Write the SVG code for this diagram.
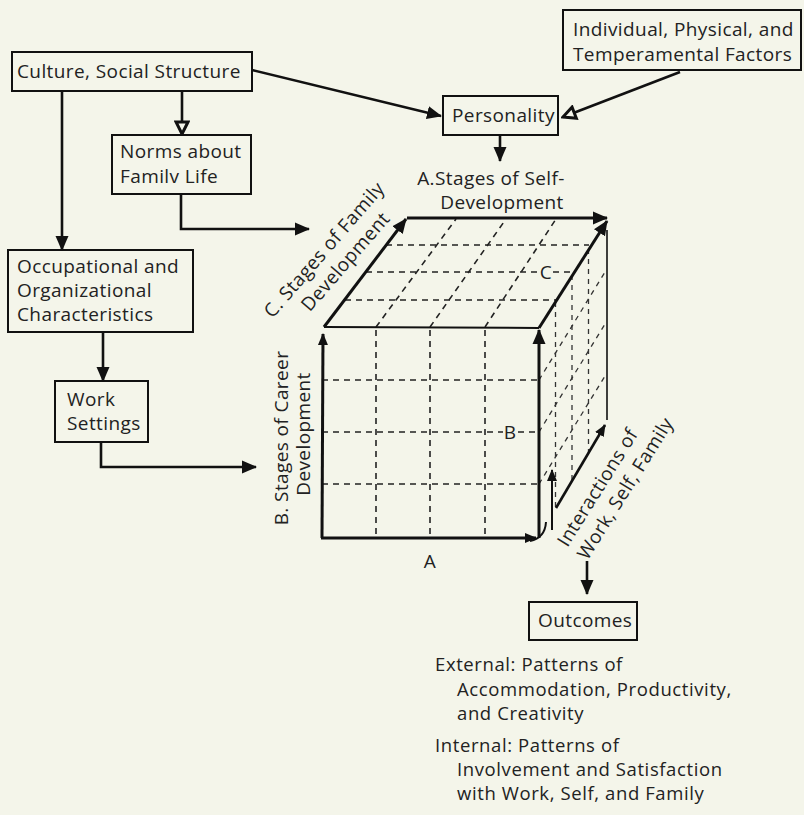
<svg xmlns="http://www.w3.org/2000/svg" width="804" height="815" viewBox="0 0 804 815">
<defs>
<style>
text{font-family:"Open Sans","Noto Sans","DejaVu Sans",sans-serif;font-size:19px;letter-spacing:0.4px;fill:#222;}
.note{font-size:18.5px;letter-spacing:0.6px;}
.box{fill:none;stroke:#111;stroke-width:2;}
.con{fill:none;stroke:#111;stroke-width:2.6;}
.edge{fill:none;stroke:#111;stroke-width:3;}
.thin{fill:none;stroke:#111;stroke-width:2;}
.dash{fill:none;stroke:#222;stroke-width:1.6;stroke-dasharray:6 5;}
.dash2{fill:none;stroke:#333;stroke-width:1.3;stroke-dasharray:5 5;}
</style>
<marker id="ah" markerWidth="15" markerHeight="15" refX="14" refY="7.5" orient="auto" markerUnits="userSpaceOnUse"><path d="M0,1 L15,7.5 L0,14 z" fill="#111"/></marker>
<marker id="ahs" markerWidth="12" markerHeight="12" refX="11" refY="6" orient="auto" markerUnits="userSpaceOnUse"><path d="M0,1 L12,6 L0,11 z" fill="#111"/></marker>
<marker id="ahh" markerWidth="16" markerHeight="16" refX="14" refY="8" orient="auto" markerUnits="userSpaceOnUse"><path d="M2,2 L14,8 L2,14 z" fill="#f4f5ea" stroke="#111" stroke-width="3"/></marker>
</defs>
<rect x="0" y="0" width="804" height="815" fill="#f4f5ea"/>

<g id="culture"><rect class="box" x="12" y="52" width="240" height="39"/><text x="17" y="78">Culture, Social Structure</text></g>
<g id="norms"><rect class="box" x="112" y="135" width="139" height="59"/><text x="120" y="158">Norms about</text><text x="120" y="183">Familv Life</text></g>
<g id="individual"><rect class="box" x="563" y="10" width="238" height="60"/><text x="573" y="36">Individual, Physical, and</text><text x="573" y="61">Temperamental Factors</text></g>
<g id="personality"><rect class="box" x="443" y="96" width="115" height="39"/><text x="452" y="122">Personality</text></g>
<g id="occupational"><rect class="box" x="8" y="250" width="185" height="82"/><text x="17" y="273">Occupational and</text><text x="17" y="297">Organizational</text><text x="17" y="321">Characteristics</text></g>
<g id="work"><rect class="box" x="55" y="381" width="93" height="61"/><text x="67" y="406">Work</text><text x="67" y="430">Settings</text></g>
<g id="outcomes"><rect class="box" x="529" y="602" width="108" height="38"/><text x="538" y="627">Outcomes</text></g>

<g id="connectors">
<path class="con" d="M252,70 L441,116" marker-end="url(#ah)"/>
<path class="con" d="M182,91 V134" marker-end="url(#ahh)"/>
<path class="con" d="M62,91 V250" marker-end="url(#ah)"/>
<path class="con" d="M680,72 L563,117" marker-end="url(#ahh)"/>
<path class="con" d="M500,135 V161" marker-end="url(#ah)"/>
<path class="con" d="M181,194 V229 H309" marker-end="url(#ah)"/>
<path class="con" d="M103,332 V381" marker-end="url(#ah)"/>
<path class="con" d="M101,442 V467 H256" marker-end="url(#ah)"/>
<path class="con" d="M587,561 V594" marker-end="url(#ah)"/>
</g>

<g id="cube">
<path class="dash" d="M376,330 V538 M430,330 V538 M485,330 V538"/>
<path class="dash" d="M322,380 H539 M322,484 H539 M322,432 H503 M518,432 H539"/>
<path class="dash" d="M345,300 H556 M366,272 H538 M553,272 H572 M386,245 H589"/>
<path class="dash" d="M376,327 L456,219 M430,327 L506,219 M485,327 L556,219"/>
<path class="dash2" d="M555.5,302 V511 M572,275 V484 M588.5,249 V457"/>
<path class="dash2" d="M539,380 L605,272 M539,432 L605,324 M539,484 L605,376"/>
<path class="thin" d="M324,327 L539,328"/>
<path class="edge" d="M322,538 L323,334" marker-end="url(#ahs)"/>
<path class="edge" d="M539,538 V330" marker-end="url(#ah)"/>
<path class="edge" d="M321,538 H536" marker-end="url(#ahs)"/>
<path class="edge" d="M324,327 L406,219" marker-end="url(#ah)"/>
<path class="edge" d="M407,218 H607" marker-end="url(#ah)"/>
<path class="edge" d="M539,328 L607,221" marker-end="url(#ah)"/>
<path class="thin" d="M607,230 V420" style="stroke-width:1.6"/>
<path class="con" d="M556,508 L605,425" marker-end="url(#ahs)"/>
<path class="thin" d="M552,530 V470" marker-end="url(#ahs)"/>
<path class="thin" d="M530,541 Q545,538 546,522"/>
<text x="491" y="185" text-anchor="middle">A.Stages of Self-</text>
<text x="502" y="209" text-anchor="middle">Development</text>
<text x="430" y="568" text-anchor="middle">A</text>
<text x="510" y="439" text-anchor="middle">B</text>
<text x="546" y="279" text-anchor="middle">C</text>
<g transform="translate(329,254) rotate(-49)"><text x="0" y="0" text-anchor="middle">C. Stages of Family</text><text x="5" y="24" text-anchor="middle">Development</text></g>
<g transform="translate(288,438) rotate(-90)"><text x="0" y="0" text-anchor="middle">B.  Stages of Career</text><text x="4" y="22" text-anchor="middle">Development</text></g>
<g transform="translate(603,491) rotate(-58)"><text x="0" y="0" text-anchor="middle">Interactions of</text><text x="14" y="24" text-anchor="middle">Work, Self, Family</text></g>
</g>

<g id="outcome-notes">
<text class="note" x="435" y="671">External: Patterns of</text>
<text class="note" x="457" y="696">Accommodation, Productivity,</text>
<text class="note" x="457" y="720">and Creativity</text>
<text class="note" x="435" y="752">Internal: Patterns of</text>
<text class="note" x="457" y="776">Involvement and Satisfaction</text>
<text class="note" x="457" y="800">with Work, Self, and Family</text>
</g>
</svg>
